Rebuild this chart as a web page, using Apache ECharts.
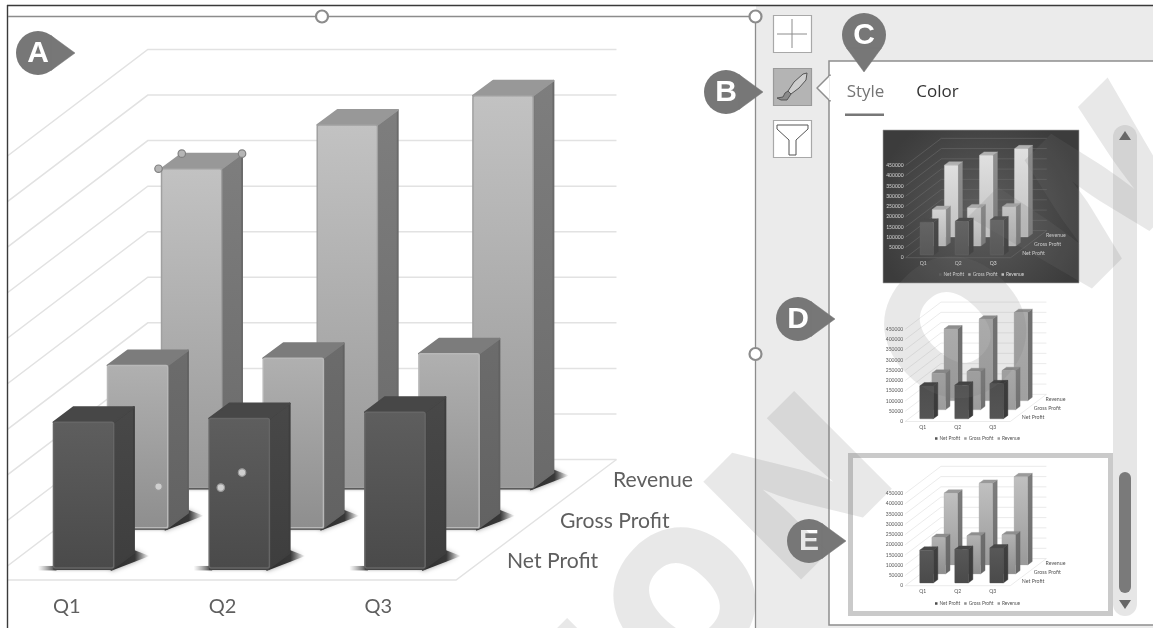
<!DOCTYPE html>
<html><head><meta charset="utf-8">
<style>html,body{margin:0;padding:0;background:#fff;overflow:hidden}#c{width:1153px;height:628px;filter:blur(0.45px)}
.soft{position:absolute;backdrop-filter:blur(0.75px);-webkit-backdrop-filter:blur(0.75px)}</style>
<script src="https://cdn.jsdelivr.net/npm/echarts@6/dist/echarts.min.js"></script>
</head><body><div id="c"></div>
<div class="soft" style="left:884px;top:131px;width:194px;height:151px"></div>
<div class="soft" style="left:884px;top:295px;width:190px;height:150px"></div>
<div class="soft" style="left:854px;top:459px;width:254px;height:152px"></div>
<script>
const categories = ['Q1', 'Q2', 'Q3'];
const seriesNames = ['Net Profit', 'Gross Profit', 'Revenue'];
const netProfit = [160000, 164000, 171000];
const grossProfit = [178000, 186000, 191000];
const revenue = [350000, 398000, 430000];
const yTicks = [0, 50000, 100000, 150000, 200000, 250000, 300000, 350000, 400000, 450000];
const selectedPoint = [revenue[0]];

const seriesValues = [netProfit, grossProfit, revenue];
const FONT = 'Lato, "Noto Sans", sans-serif';
const UI = '"Open Sans", "Noto Sans", sans-serif';
const grad = (a, b) => new echarts.graphic.LinearGradient(0, 0, 0, 1, [{offset: 0, color: a}, {offset: 1, color: b}]);

const BARW = 0.387, DX = 0.347, DXW = 0.34, DY = 0.258, D0 = 0.31, DEPTH = 0.375;
function barGeom(api, s) {
  const c = api.coord([api.value(0), api.value(1)]);
  const b = api.size([1, 0])[0];
  const base = api.coord([api.value(0), 0])[1];
  const ox = D0 * DX * b + s * DX * b, oy = -(0.3 + s) * DY * b;
  return {b, x: c[0] - BARW * b / 2 + ox, w: BARW * b, top: c[1] + oy, by: base + oy, dx: DEPTH * DX * b, dy: -DEPTH * DY * b};
}
function barItem(s, pal) {
  return function (p, api) {
    const g = barGeom(api, s), lw = g.b * 0.012, ch = [];
    if (pal.shadow) {
      const sp = g.b * 0.1;
      ch.push({type: 'polygon', shape: {points: [[g.x + g.w - 3, g.by + 3], [g.x + g.w + g.dx + sp, g.by + g.dy + 3], [g.x + g.w + g.dx, g.by + g.dy - 3], [g.x + g.w - 3, g.by - 3]]},
        style: {fill: new echarts.graphic.LinearGradient(0, 0, 1, 0, [{offset: 0, color: '#2e2e2e'}, {offset: 0.62, color: '#383838'}, {offset: 1, color: 'rgba(110,110,110,0)'}]), shadowBlur: 5, shadowColor: 'rgba(80,80,80,0.55)'}});
      ch.push({type: 'rect', shape: {x: g.x - sp, y: g.by - 2, width: sp + 3, height: 4.5},
        style: {fill: new echarts.graphic.LinearGradient(0, 0, 1, 0, [{offset: 0, color: 'rgba(110,110,110,0)'}, {offset: 1, color: '#333'}])}});
      ch.push({type: 'rect', shape: {x: g.x, y: g.by - 1, width: g.w, height: 3}, style: {fill: '#444', shadowBlur: 3, shadowColor: 'rgba(80,80,80,0.5)'}});
    }
    ch.push({type: 'polygon', shape: {points: [[g.x + g.w, g.top], [g.x + g.w + g.dx, g.top + g.dy], [g.x + g.w + g.dx, g.by + g.dy], [g.x + g.w, g.by]]},
      style: {fill: grad(pal.side[0], pal.side[1]), stroke: pal.side[1], lineWidth: lw, lineJoin: 'round'}});
    ch.push({type: 'polygon', shape: {points: [[g.x, g.top], [g.x + g.dx, g.top + g.dy], [g.x + g.w + g.dx, g.top + g.dy], [g.x + g.w, g.top]]},
      style: {fill: pal.top, stroke: pal.top, lineWidth: lw, lineJoin: 'round'}});
    ch.push({type: 'rect', shape: {x: g.x, y: g.top, width: g.w, height: g.by - g.top, r: lw},
      style: {fill: grad(pal.face[0], pal.face[1]), stroke: pal.edge, lineWidth: lw * 0.8}});
    return {type: 'group', children: ch};
  };
}
function wallItem(color, lw) {
  return function (p, api) {
    const v = api.value(1), b = api.size([1, 0])[0];
    const c = api.coord([0, v]), x0 = c[0] - b / 2, y = c[1];
    const bx = x0 + 3 * DXW * b, by = y - 3 * DY * b, len = 3.01 * b;
    const ch = [{type: 'polyline', shape: {points: [[x0, y], [bx, by], [bx + len, by]]}, style: {stroke: color, lineWidth: lw, fill: null}}];
    if (v === 0) ch.push({type: 'polyline', shape: {points: [[x0, y], [x0 + 3 * b, y], [bx + len, by]]}, style: {stroke: color, lineWidth: lw, fill: null}});
    return {type: 'group', children: ch};
  };
}
function nameItem(color, k) {
  return function (p, api) {
    const i = p.dataIndex, b = api.size([1, 0])[0];
    const c = api.coord([2, 0]);
    return {type: 'text', style: {text: seriesNames[i], x: c[0] + b / 2 + (i + 1) * DXW * b - 0.013 * b, y: c[1] - (i + 0.475) * DY * b,
      fill: color, font: (k * b) + 'px ' + FONT, textAlign: 'left', textVerticalAlign: 'middle'}};
  };
}
function handleItem(p, api) {
  const g = barGeom(api, 2), r = g.b * 0.024;
  const pts = [[g.x - 3, g.top], [g.x + g.dx, g.top + g.dy], [g.x + g.w + g.dx, g.top + g.dy], [g.x - 3, g.by - 1], [g.x + g.w - 1, g.by], [g.x + g.w + g.dx, g.by + g.dy]];
  return {type: 'group', children: pts.map((q, i) => ({type: 'circle', shape: {cx: q[0], cy: q[1], r},
    style: {fill: i < 3 ? '#b5b5b5' : '#cfcfcf', stroke: i < 3 ? '#808080' : '#999', lineWidth: 1.2}}))};
}

const mainPal = [
  {face: ['#5e5e5e', '#4a4a4a'], side: ['#484848', '#3e3e3e'], top: '#474747', edge: '#666', shadow: 1},
  {face: ['#b0b0b0', '#8e8e8e'], side: ['#6c6c6c', '#626262'], top: '#7c7c7c', edge: '#b8b8b8', shadow: 1},
  {face: ['#c2c2c2', '#999999'], side: ['#7e7e7e', '#6a6a6a'], top: '#989898', edge: '#a0a0a0', shadow: 1}
];
const darkPal = [
  {face: ['#646464', '#585858'], side: ['#4a4a4a', '#444'], top: '#4c4c4c', edge: '#6c6c6c'},
  {face: ['#d4d4d4', '#b4b4b4'], side: ['#8c8c8c', '#7a7a7a'], top: '#aaa', edge: '#ccc'},
  {face: ['#e0e0e0', '#c0c0c0'], side: ['#909090', '#7e7e7e'], top: '#b0b0b0', edge: '#ddd'}
];
const midPal = [
  {face: ['#4e4e4e', '#555'], side: ['#3c3c3c', '#3a3a3a'], top: '#3a3a3a', edge: '#555'},
  {face: ['#a8a8a8', '#9c9c9c'], side: ['#7a7a7a', '#707070'], top: '#8a8a8a', edge: '#aaa'},
  {face: ['#ababab', '#a0a0a0'], side: ['#707070', '#6c6c6c'], top: '#8e8e8e', edge: '#aaa'}
];
const lightPal = [
  {face: ['#585858', '#4a4a4a'], side: ['#404040', '#3a3a3a'], top: '#484848', edge: '#555'},
  {face: ['#b2b2b2', '#8e8e8e'], side: ['#6e6e6e', '#666'], top: '#8e8e8e', edge: '#aaa'},
  {face: ['#c0c0c0', '#9a9a9a'], side: ['#7e7e7e', '#6c6c6c'], top: '#9a9a9a', edge: '#aaa'}
];

const S = 0.225, BW = 155.7, TOTALW = 3 * BW, PH = 410;
const views = [
  {x0: -11, y0: 580, s: 1, pal: mainPal, wall: '#e2e2e2', wallW: 1.5, text: '#5f5f5f', isMain: true},
  {x0: 905.6, y0: 257.7, s: S, pal: darkPal, wall: '#6a6a6a', wallW: 0.6, text: '#d8d8d8', legendTop: 272, legendLeft: 939},
  {x0: 905.2, y0: 421.5, s: S, pal: midPal, wall: '#dedede', wallW: 0.6, text: '#555', legendTop: 436, legendLeft: 935},
  {x0: 905.2, y0: 585.7, s: S, pal: lightPal, wall: '#dedede', wallW: 0.6, text: '#555', legendTop: 601, legendLeft: 935}
];
const grid = [], xAxis = [], yAxis = [], series = [], legend = [];
views.forEach((v, n) => {
  grid.push({left: v.x0, top: v.y0 - PH * v.s, width: TOTALW * v.s, height: PH * v.s, containLabel: false, outerBoundsMode: 'none'});
  xAxis.push({type: 'category', gridIndex: n, data: categories, axisLine: {show: false}, axisTick: {show: false}, splitLine: {show: false},
    axisLabel: {color: v.text, fontFamily: FONT, fontSize: v.isMain ? 20 : 5, margin: v.isMain ? 17 : 3}});
  yAxis.push({type: 'value', gridIndex: n, min: 0, max: 450000, interval: 50000, axisLine: {show: false}, axisTick: {show: false}, splitLine: {show: false},
    axisLabel: {show: !v.isMain, color: v.text, fontFamily: FONT, fontSize: 5, margin: 2, formatter: x => String(x)}});
  const base = {type: 'custom', xAxisIndex: n, yAxisIndex: n, silent: true, animation: false, clip: false, encode: {x: 0, y: 1}};
  series.push(Object.assign({}, base, {renderItem: wallItem(v.wall, v.wallW), data: yTicks.map(t => [0, t])}));
  series.push(Object.assign({}, base, {renderItem: nameItem(v.text, v.isMain ? 0.136 : 0.15), data: seriesNames.map((s, i) => [0, i])}));
  [2, 1, 0].forEach(i => {
    series.push(Object.assign({}, base, {name: seriesNames[i], itemStyle: {color: v.pal[i].face[1]},
      renderItem: barItem(i, v.pal[i]), data: seriesValues[i].map((d, j) => [j, d])}));
  });
  if (v.isMain) series.push(Object.assign({}, base, {z: 5, renderItem: handleItem, data: selectedPoint.map(d => [0, d])}));
  else legend.push({left: v.legendLeft, top: v.legendTop, icon: 'rect', itemWidth: 2.5, itemHeight: 2.5, itemGap: 4, selectedMode: false,
    textStyle: {color: v.text, fontSize: 4.8, fontFamily: FONT, padding: [0, 0, 0, -3]}, padding: 0,
    data: seriesNames.map((nm, i) => ({name: nm, itemStyle: {color: v.pal[i].face[1]}}))});
});

function rect(x, y, w, h, fill, stroke, lw, z, r) {
  return {type: 'rect', z, silent: true, shape: {x, y, width: w, height: h, r: r || 0}, style: {fill: fill || 'none', stroke: stroke || null, lineWidth: lw || 0}};
}
function line(x1, y1, x2, y2, c, lw, z) {
  return {type: 'line', z, silent: true, shape: {x1, y1, x2, y2}, style: {stroke: c, lineWidth: lw}};
}
function poly(pts, fill, stroke, lw, z) {
  return {type: 'polygon', z, silent: true, shape: {points: pts}, style: {fill: fill || 'none', stroke, lineWidth: lw, lineJoin: 'round'}};
}
function label(t, x, y, size, color, weight, z, family) {
  return {type: 'text', z, silent: true, style: {text: t, x, y, fill: color, font: (weight || 'normal') + ' ' + size + 'px ' + (family || UI), textAlign: 'center', textVerticalAlign: 'middle'}};
}
function handle(x, y) {
  return {type: 'circle', z: 60, silent: true, shape: {cx: x, cy: y, r: 6}, style: {fill: '#fff', stroke: '#8c8c8c', lineWidth: 2.2}};
}
function callout(t, x, y, dir) {
  const pts = dir === 'down' ? [[-17.5, 13], [17.5, 13], [0, 37]] : [[13, -17.5], [13, 17.5], [37, 0]];
  return [
    {type: 'circle', z: 70, silent: true, shape: {cx: x, cy: y, r: 22}, style: {fill: '#777777'}},
    poly(pts.map(p => [x + p[0], y + p[1]]), '#777777', '#777777', 0.5, 70),
    label(t, x, y + 1, 30, '#ffffff', 'bold', 71, '"Liberation Sans", Arial, sans-serif')
  ];
}
const WM_S = 919;
const watermark = [['N', -100], ['O', 61], ['N', 221], ['O', 444], ['W', 630]].map(([ch, t]) => ({
  type: 'text', z: 90, silent: true, x: (WM_S + t) / Math.SQRT2, y: (WM_S - t) / Math.SQRT2, rotation: Math.PI / 4,
  style: {text: ch, fill: 'rgba(120,120,120,0.17)', font: '900 190px Inter, "Liberation Sans", sans-serif', textAlign: 'center', textVerticalAlign: 'middle'}
}));
const Zb = -2, Zt = 50;
const elements = [
  rect(0, 0, 1153, 628, '#ffffff', null, 0, Zb - 1),
  rect(756, 6, 397, 622, '#ebebeb', null, 0, Zb),
  rect(829, 61, 330, 564, '#ffffff', '#8f8f8f', 1.5, Zb),
  rect(883, 130, 196, 153, new echarts.graphic.RadialGradient(0.5, 0.55, 0.7, [{offset: 0, color: '#5e5e5e'}, {offset: 1, color: '#3c3c3c'}]), '#aaa', 0.6, Zb),
  rect(850.5, 455.5, 260, 158, null, '#cacaca', 5, Zb),
  rect(1113, 125, 24, 491, '#e6e6e6', null, 0, Zb, 12),
  rect(1119, 472, 12, 121, '#7a7a7a', null, 0, Zb, 6),
  poly([[1119, 140], [1131, 140], [1125, 131]], '#666', null, 0, Zb),
  poly([[1119, 600], [1131, 600], [1125, 609]], '#666', null, 0, Zb),
  poly([[830, 75], [817, 88], [830, 101]], '#ffffff', '#8f8f8f', 1.5, Zb),
  line(830.5, 76, 830.5, 100, '#ffffff', 2.5, Zb),
  label('Style', 865.5, 92, 17, '#757575', 'normal', Zb),
  label('Color', 937.5, 92, 17, '#333333', 'normal', Zb),
  rect(845, 113.5, 39, 2.5, '#777', null, 0, Zb),
  rect(773.5, 15.5, 38, 37, '#ffffff', '#a8a8a8', 1.2, Zb),
  line(777, 34, 807, 34, '#8c8c8c', 1, Zb), line(792, 19, 792, 48, '#8c8c8c', 1, Zb),
  rect(773.5, 68.5, 38, 37, '#b4b4b4', '#9a9a9a', 1.2, Zb),
  poly([[807, 73], [803, 74], [794, 82], [788, 91], [791, 94], [799, 88], [806, 80]], '#cfcfcf', '#555', 1, Zb),
  poly([[788, 91], [785, 93], [783, 97], [777, 98], [781, 100], [787, 100], [791, 94]], '#8a8a8a', '#555', 1, Zb),
  rect(773.5, 120.5, 38, 37, '#ffffff', '#a8a8a8', 1.2, Zb),
  poly([[777, 125], [808, 125], [808, 129], [796, 140], [796, 155], [789, 155], [789, 140], [777, 129]], '#ffffff', '#555', 1, Zb),
  rect(0, 0, 7, 628, '#ffffff', null, 0, Zt),
  line(7, 5.5, 1153, 5.5, '#3a3a3a', 1.4, Zt),
  line(7.5, 5, 7.5, 628, '#3a3a3a', 1.4, Zt),
  line(8, 16.5, 755, 16.5, '#8c8c8c', 1.3, Zt),
  line(755.5, 16, 755.5, 628, '#8c8c8c', 1.3, Zt),
  handle(322, 16.5), handle(755.5, 16.5), handle(755.5, 354)
].concat(
  callout('A', 38, 53), callout('B', 726, 92), callout('C', 864, 35, 'down'), callout('D', 798, 319), callout('E', 809, 541),
  watermark
);

const chart = echarts.init(document.getElementById('c'), null, {renderer: 'canvas', width: 1153, height: 628});
chart.setOption({animation: false, backgroundColor: 'transparent', grid, xAxis, yAxis, series, legend, graphic: {elements}});
</script></body></html>
